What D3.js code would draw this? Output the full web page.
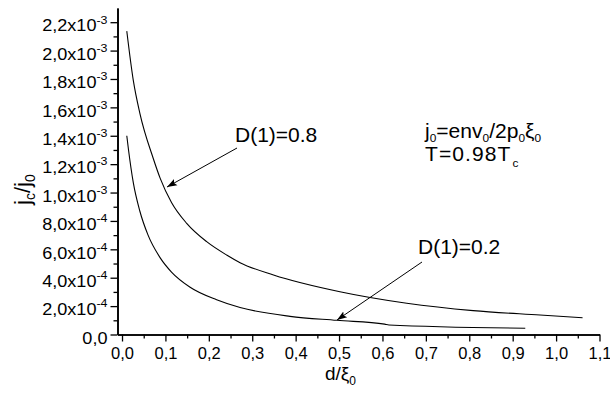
<!DOCTYPE html>
<html>
<head>
<meta charset="utf-8">
<script src="https://cdn.jsdelivr.net/npm/d3@7"></script>
<style>
  body { margin: 0; background: #fff; }
  text { font-family: "Liberation Sans", Arial, sans-serif; fill: #000; }
</style>
</head>
<body>
<div id="chart"></div>
<script>
const width = 610
const height = 397

// d/xi0 and jc/j0 readings, D(1)=0.8
const xHigh = [0.011, 0.026, 0.041, 0.072, 0.088, 0.114, 0.149, 0.195, 0.241, 0.272, 0.349, 0.502, 0.656, 0.809, 0.963, 1.061]
const yHigh = [2.137e-3, 1.79e-3, 1.56e-3, 1.24e-3, 1.10e-3, 0.93e-3, 0.783e-3, 0.654e-3, 0.56e-3, 0.506e-3, 0.419e-3, 0.301e-3, 0.22e-3, 0.168e-3, 0.137e-3, 0.118e-3]
// D(1)=0.2
const xLow = [0.011, 0.015, 0.026, 0.041, 0.06, 0.088, 0.114, 0.156, 0.218, 0.272, 0.387, 0.495, 0.605, 0.615, 0.929]
const yLow = [1.40e-3, 1.30e-3, 1.07e-3, 0.87e-3, 0.70e-3, 0.54e-3, 0.44e-3, 0.335e-3, 0.245e-3, 0.19e-3, 0.128e-3, 0.100e-3, 0.073e-3, 0.067e-3, 0.044e-3]

const xTicks = [0, 0.1, 0.2, 0.3, 0.4, 0.5, 0.6, 0.7, 0.8, 0.9, 1.0, 1.1]
const xTickLabels = ["0,0", "0,1", "0,2", "0,3", "0,4", "0,5", "0,6", "0,7", "0,8", "0,9", "1,0", "1,1"]
const yTicks = [0, 2e-4, 4e-4, 6e-4, 8e-4, 1.0e-3, 1.2e-3, 1.4e-3, 1.6e-3, 1.8e-3, 2.0e-3, 2.2e-3]
const yMant = ["0,0", "2,0", "4,0", "6,0", "8,0", "1,0", "1,2", "1,4", "1,6", "1,8", "2,0", "2,2"]
const yExp = [null, "-4", "-4", "-4", "-4", "-3", "-3", "-3", "-3", "-3", "-3", "-3"]

const svg = d3.select('#chart')
  .append('svg')
  .attr('width', width)
  .attr('height', height)

const x = d3.scaleLinear().domain([-0.0104, 1.1]).range([117.5, 599.5])
const y = d3.scaleLinear().domain([0, 2.3e-3]).range([334.5, 8])

svg.append('defs').append('marker')
  .attr('id', 'arrow')
  .attr('viewBox', '0 0 10 10')
  .attr('refX', 10).attr('refY', 5)
  .attr('markerWidth', 10).attr('markerHeight', 10)
  .attr('markerUnits', 'userSpaceOnUse')
  .attr('orient', 'auto')
  .append('path')
  .attr('d', 'M0,1.5 L10,5 L0,8.5 L2,5 Z')
  .attr('fill', '#000')

// minor ticks
svg.append('g')
  .attr('transform', 'translate(117.5,0)')
  .call(d3.axisLeft(y).tickValues(d3.range(1e-4, 2.3e-3, 2e-4)).tickSize(4).tickFormat('').tickSizeOuter(0))
svg.append('g')
  .attr('transform', 'translate(0,334.5)')
  .call(d3.axisBottom(x).tickValues(d3.range(0.05, 1.1, 0.1)).tickSize(4).tickFormat('').tickSizeOuter(0))

// major ticks
const yAxis = svg.append('g')
  .attr('transform', 'translate(117.5,0)')
  .call(d3.axisLeft(y).tickValues(yTicks).tickSize(7).tickSizeOuter(0).tickFormat(''))
const xAxis = svg.append('g')
  .attr('transform', 'translate(0,334.5)')
  .call(d3.axisBottom(x).tickValues(xTicks).tickSize(7).tickSizeOuter(0).tickFormat((d, i) => xTickLabels[i]))

svg.selectAll('.domain').attr('stroke-width', 1.6)
svg.selectAll('.tick line').attr('stroke-width', 1.3)

xAxis.selectAll('text')
  .attr('font-size', 16.5)
  .attr('font-family', '"Liberation Sans", Arial, sans-serif')
  .attr('y', 13)

yAxis.selectAll('.tick').each(function(d, i) {
  const t = d3.select(this).select('text')
    .attr('font-size', 16)
    .attr('font-family', '"Liberation Sans", Arial, sans-serif')
    .attr('x', 0)
    .attr('dy', '0.55em')
    .attr('transform', 'translate(-10,0) scale(1.13,1)')
  t.append('tspan').text(yExp[i] ? yMant[i] + 'x10' : yMant[i])
  if (yExp[i]) {
    t.append('tspan').attr('font-size', 11).attr('dy', -8).text(yExp[i])
  }
})

const line = d3.line().x(d => x(d[0])).y(d => y(d[1])).curve(d3.curveMonotoneX)

svg.append('path')
  .datum(xHigh.map((v, i) => [v, yHigh[i]]))
  .attr('d', line)
  .attr('fill', 'none').attr('stroke', '#000').attr('stroke-width', 1.1)
svg.append('path')
  .datum(xLow.map((v, i) => [v, yLow[i]]))
  .attr('d', line)
  .attr('fill', 'none').attr('stroke', '#000').attr('stroke-width', 1.1)

// axis titles
const xt = svg.append('text').attr('x', 325).attr('y', 380).attr('font-size', 19)
xt.append('tspan').text('d/ξ')
xt.append('tspan').attr('font-size', 12).attr('dy', 5).text('0')

const yt = svg.append('text')
  .attr('transform', 'translate(30,205) rotate(-90)')
  .attr('font-size', 22)
yt.append('tspan').text('j')
yt.append('tspan').attr('font-size', 14).attr('dy', 5).text('c')
yt.append('tspan').attr('dy', -5).text('/j')
yt.append('tspan').attr('font-size', 14).attr('dy', 5).text('0')

// annotations
svg.append('text').attr('x', 235).attr('y', 142).attr('font-size', 21).text('D(1)=0.8')
svg.append('text').attr('x', 418).attr('y', 254).attr('font-size', 21).text('D(1)=0.2')

svg.append('line')
  .attr('x1', 237).attr('y1', 148).attr('x2', 167).attr('y2', 187)
  .attr('stroke', '#000').attr('stroke-width', 1).attr('marker-end', 'url(#arrow)')
svg.append('line')
  .attr('x1', 422).attr('y1', 262).attr('x2', 337).attr('y2', 320)
  .attr('stroke', '#000').attr('stroke-width', 1).attr('marker-end', 'url(#arrow)')

const n1 = svg.append('text').attr('transform', 'translate(425,138) scale(1.08,1)').attr('font-size', 19.5)
n1.append('tspan').text('j')
n1.append('tspan').attr('font-size', 11).attr('dy', 4).text('0')
n1.append('tspan').attr('dy', -4).text('=env')
n1.append('tspan').attr('font-size', 11).attr('dy', 4).text('0')
n1.append('tspan').attr('dy', -4).text('/2p')
n1.append('tspan').attr('font-size', 11).attr('dy', 4).text('0')
n1.append('tspan').attr('dy', -4).text('ξ')
n1.append('tspan').attr('font-size', 11).attr('dy', 4).text('0')

const n2 = svg.append('text').attr('transform', 'translate(425,161) scale(1.08,1)').attr('font-size', 19.5)
  .attr('letter-spacing', 1)
n2.append('tspan').text('T=0.98T')
n2.append('tspan').attr('font-size', 11).attr('dy', 6).attr('dx', 1).text('c')
</script>
</body>
</html>
